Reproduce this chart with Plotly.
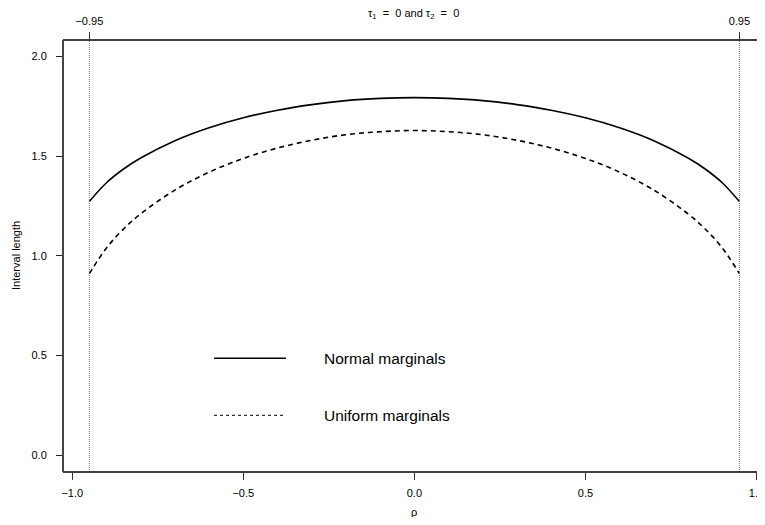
import plotly.graph_objects as go

rho = [-0.95, -0.9, -0.85, -0.8, -0.7, -0.6, -0.5, -0.4, -0.3, -0.2, -0.1, 0.0,
       0.1, 0.2, 0.3, 0.4, 0.5, 0.6, 0.7, 0.8, 0.85, 0.9, 0.95]
normal_len = [1.273, 1.367, 1.436, 1.491, 1.578, 1.643, 1.693, 1.731, 1.759, 1.779, 1.790, 1.794,
              1.790, 1.779, 1.759, 1.731, 1.693, 1.643, 1.578, 1.491, 1.436, 1.367, 1.273]
uniform_len = [0.911, 1.040, 1.135, 1.211, 1.330, 1.420, 1.489, 1.541, 1.580, 1.608, 1.623, 1.629,
               1.623, 1.608, 1.580, 1.541, 1.489, 1.420, 1.330, 1.211, 1.135, 1.040, 0.911]
bounds = [-0.95, 0.95]
bound_labels = ["\u22120.95", "0.95"]
x_ticks = [-1.0, -0.5, 0.0, 0.5, 1.0]
y_ticks = [0.0, 0.5, 1.0, 1.5, 2.0]
legend_names = ["Normal marginals", "Uniform marginals"]

FONT = "Liberation Sans, Arial, sans-serif"

# page body has an 8px default margin; compensate and avoid scrollbars
OFF = 8
W, H = 765 - OFF, 525 - 2 * OFF
L, R, T = 63 - OFF, 1, 39.5 - OFF
B = H - (471.7 - OFF)
pw, ph = W - L - R, H - T - B

def px(x):  # page pixel x -> paper
    return (x - OFF - L) / pw

def py(y):  # page pixel y -> paper
    return (H - B - (y - OFF)) / ph

fig = go.Figure()
fig.add_trace(go.Scatter(x=rho, y=normal_len, mode="lines", line=dict(color="black", width=1.6, shape="spline"),
                         showlegend=False, hoverinfo="skip"))
fig.add_trace(go.Scatter(x=rho, y=uniform_len, mode="lines",
                         line=dict(color="black", width=1.6, dash="5px,4px", shape="spline"),
                         showlegend=False, hoverinfo="skip"))
# invisible trace for top axis
fig.add_trace(go.Scatter(x=bounds, y=[1, 1], xaxis="x2", mode="lines", line=dict(width=0),
                         showlegend=False, hoverinfo="skip"))

shapes = []
for b in bounds:
    shapes.append(dict(type="line", xref="x", yref="paper", x0=b, x1=b, y0=0, y1=1,
                       line=dict(color="#777", width=1, dash="1px,1px")))
# box
shapes.append(dict(type="line", xref="paper", yref="paper", x0=0, x1=1, y0=0, y1=0, line=dict(color="black", width=1.5)))
shapes.append(dict(type="line", xref="paper", yref="paper", x0=0, x1=1, y0=1, y1=1, line=dict(color="black", width=1.5)))
shapes.append(dict(type="line", xref="paper", yref="paper", x0=0, x1=0, y0=0, y1=1, line=dict(color="#444", width=2)))
shapes.append(dict(type="line", xref="paper", yref="paper", x0=1, x1=1, y0=0, y1=1, line=dict(color="#bbb", width=1)))

# manual legend
shapes.append(dict(type="line", xref="paper", yref="paper", x0=px(214), x1=px(286), y0=py(358), y1=py(358),
                   line=dict(color="black", width=1.5)))
shapes.append(dict(type="line", xref="paper", yref="paper", x0=px(214), x1=px(286), y0=py(415), y1=py(415),
                   line=dict(color="#333", width=1.2, dash="3px,3px")))

annotations = [
    dict(text=legend_names[0], xref="paper", yref="paper", x=px(322), y=py(358), xanchor="left", yanchor="middle",
         showarrow=False, font=dict(size=15.5, color="black", family=FONT)),
    dict(text=legend_names[1], xref="paper", yref="paper", x=px(322), y=py(415), xanchor="left", yanchor="middle",
         showarrow=False, font=dict(size=15.5, color="black", family=FONT)),
    dict(text="\u03c4<sub>1</sub>  =  0 and \u03c4<sub>2</sub>  =  0", xref="paper", yref="paper",
         x=0.5, y=py(13), xanchor="center", yanchor="middle", showarrow=False,
         font=dict(size=11, color="black", family=FONT)),
    dict(text="\u03c1", xref="paper", yref="paper", x=0.5, y=py(512), xanchor="center", yanchor="middle",
         showarrow=False, font=dict(size=11, color="black", family=FONT)),
    dict(text="Interval length", xref="paper", yref="paper", x=px(16), y=0.5, xanchor="center", yanchor="middle",
         textangle=-90, showarrow=False, font=dict(size=11, color="black", family=FONT)),
]

fig.update_layout(
    width=W, height=H,
    margin=dict(l=L, r=R, t=T, b=B, pad=0, autoexpand=False),
    paper_bgcolor="white", plot_bgcolor="white",
    font=dict(family=FONT, size=11, color="black"),
    shapes=shapes, annotations=annotations,
    xaxis=dict(range=[-1.027, 1.022], tickvals=x_ticks, tickformat=".1f", ticks="outside", ticklen=7,
               tickwidth=1.3, tickcolor="#333", showgrid=False, zeroline=False, showline=False,
               automargin=False, ticklabelstandoff=4),
    xaxis2=dict(overlaying="x", side="top", matches="x", tickvals=bounds, ticktext=bound_labels,
                ticks="outside", ticklen=7, tickwidth=1.3, tickcolor="#333", showgrid=False,
                zeroline=False, showline=False, automargin=False, ticklabelstandoff=3),
    yaxis=dict(range=[-0.084, 2.083], tickvals=y_ticks, tickformat=".1f", ticks="outside", ticklen=6,
               tickwidth=1.3, tickcolor="#222", showgrid=False, zeroline=False, showline=False,
               automargin=False, ticklabelstandoff=7),
)

fig.write_html("out.html")
